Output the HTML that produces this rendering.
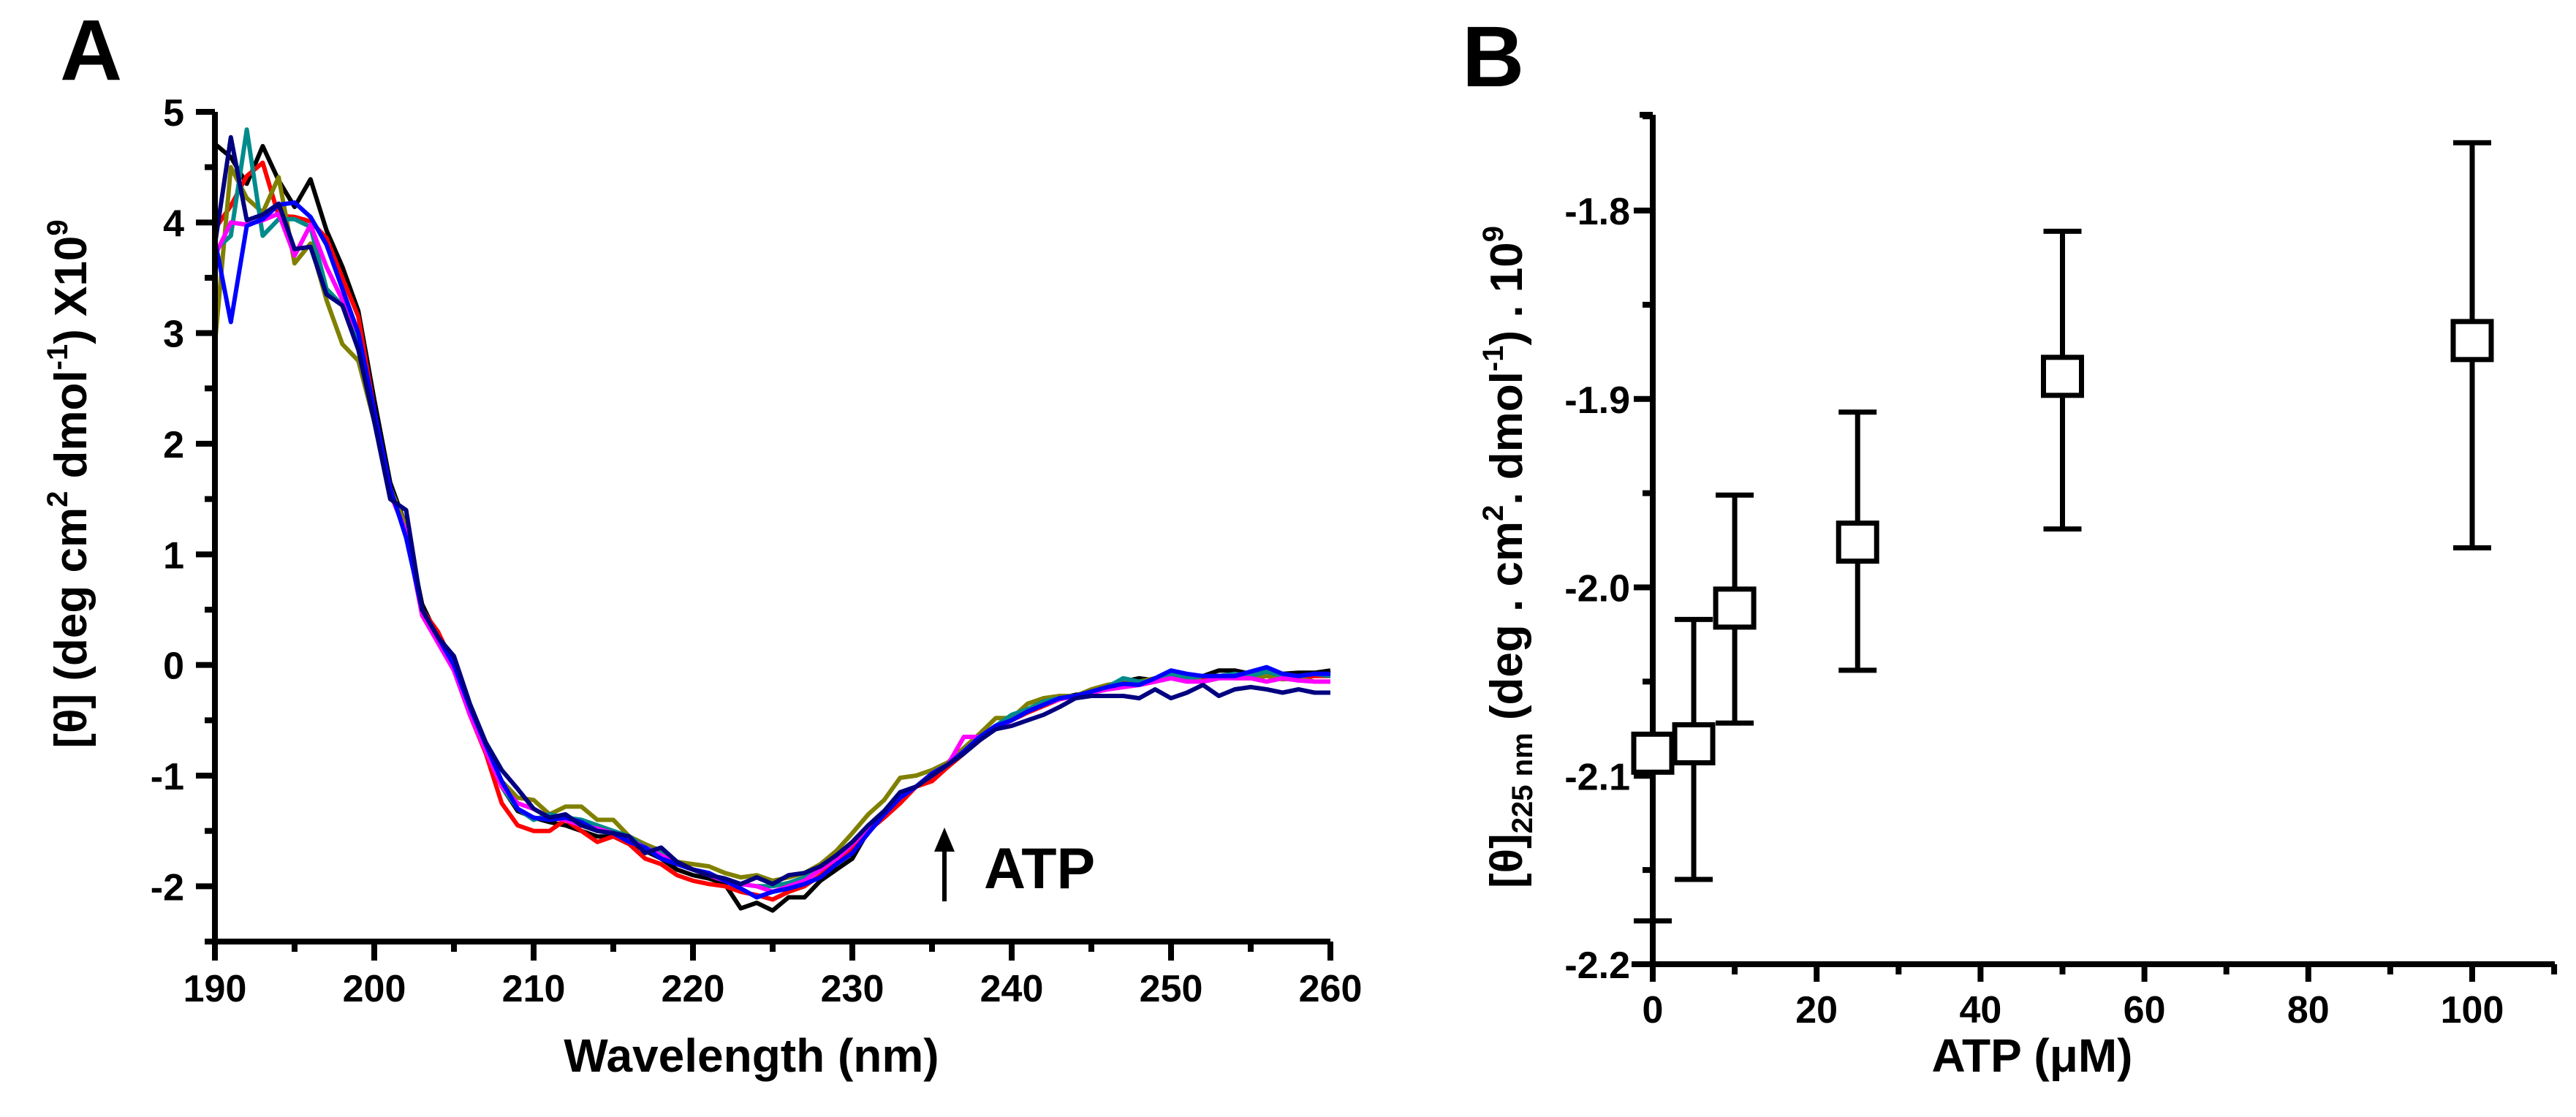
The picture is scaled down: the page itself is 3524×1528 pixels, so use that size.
<!DOCTYPE html>
<html><head><meta charset="utf-8"><style>
html,body{margin:0;padding:0;background:#fff;}
svg{display:block;font-family:"Liberation Sans",Arial,sans-serif;font-weight:bold;}
</style></head><body>
<svg id="fig" width="3524" height="1528" viewBox="0 0 3524 1528" xmlns="http://www.w3.org/2000/svg">
<rect width="3524" height="1528" fill="#fff"/>
<text x="82" y="109" font-size="118">A</text>
<text x="2000" y="118" font-size="118">B</text>
<g id="panelA"></g>
<g id="panelB"></g>
<text transform="translate(118,662) rotate(-90)" text-anchor="middle" font-size="62">[θ] (deg cm<tspan font-size="40" dy="-26">2</tspan><tspan dy="26"> dmol</tspan><tspan font-size="40" dy="-26">-1</tspan><tspan dy="26">) X10</tspan><tspan font-size="40" dy="-26">9</tspan></text>
<text x="1028" y="1466" text-anchor="middle" font-size="64">Wavelength (nm)</text>
<g>
<line x1="1292" y1="1233" x2="1292" y2="1155" stroke="#000" stroke-width="6"/>
<polygon points="1292,1132 1278,1165 1306,1165" fill="#000"/>
<text x="1346" y="1215" font-size="79">ATP</text>
</g>
<text transform="translate(2082,762) rotate(-90)" text-anchor="middle" font-size="62">[θ]<tspan font-size="40" dy="14">225 nm</tspan><tspan dy="-14"> (deg . cm</tspan><tspan font-size="40" dy="-26">2</tspan><tspan dy="26">. dmol</tspan><tspan font-size="40" dy="-26">-1</tspan><tspan dy="26">) . 10</tspan><tspan font-size="40" dy="-26">9</tspan></text>
<text x="2780" y="1466" text-anchor="middle" font-size="64">ATP (μM)</text>
</svg>
<script>
// ---- Panel A data ----
const wavelengths = [];
for (let w = 190; w <= 260; w++) wavelengths.push(w);
const aXTicks = [190,200,210,220,230,240,250,260];
const aYTicks = [5,4,3,2,1,0,-1,-2];
const seriesColors = ["#000000","#ff0000","#808000","#008b8b","#ff00ff","#0000ff","#000080"];
const seriesBlack = [4.71,4.59,4.35,4.69,4.38,4.14,4.39,3.93,3.6,3.2,
2.4,1.65,1.25,0.55,0.25,0.05,-0.38,-0.72,-1.1,-1.32,
-1.38,-1.42,-1.45,-1.5,-1.55,-1.55,-1.6,-1.68,-1.75,-1.85,
-1.9,-1.93,-1.98,-2.2,-2.15,-2.22,-2.1,-2.1,-1.95,-1.85,
-1.75,-1.5,-1.35,-1.22,-1.1,-1.0,-0.92,-0.8,-0.65,-0.55,
-0.5,-0.4,-0.35,-0.3,-0.27,-0.25,-0.2,-0.15,-0.12,-0.14,
-0.1,-0.12,-0.1,-0.05,-0.05,-0.08,-0.05,-0.08,-0.07,-0.07,
-0.05];
const seriesRed = [3.94,4.15,4.42,4.54,4.06,4.05,4.01,3.86,3.5,3.15,
2.3,1.6,1.2,0.5,0.3,0.0,-0.45,-0.8,-1.25,-1.45,
-1.5,-1.5,-1.4,-1.5,-1.6,-1.55,-1.62,-1.75,-1.8,-1.9,
-1.95,-1.98,-2.0,-2.05,-2.08,-2.12,-2.05,-2.0,-1.9,-1.78,
-1.65,-1.5,-1.38,-1.25,-1.1,-1.05,-0.92,-0.8,-0.68,-0.57,
-0.5,-0.43,-0.37,-0.31,-0.28,-0.25,-0.22,-0.2,-0.18,-0.15,
-0.1,-0.13,-0.12,-0.1,-0.12,-0.12,-0.1,-0.12,-0.12,-0.1,
-0.1];
const seriesOlive = [2.9,4.5,4.22,4.09,4.41,3.63,3.81,3.3,2.9,2.75,
2.2,1.6,1.25,0.5,0.25,-0.05,-0.45,-0.75,-1.05,-1.2,
-1.22,-1.35,-1.28,-1.28,-1.4,-1.4,-1.55,-1.62,-1.68,-1.78,
-1.8,-1.82,-1.88,-1.92,-1.9,-1.95,-1.92,-1.88,-1.8,-1.68,
-1.52,-1.35,-1.22,-1.02,-1.0,-0.95,-0.88,-0.75,-0.62,-0.48,
-0.48,-0.35,-0.3,-0.28,-0.28,-0.22,-0.18,-0.16,-0.15,-0.12,
-0.12,-0.1,-0.15,-0.12,-0.1,-0.12,-0.1,-0.13,-0.12,-0.15,
-0.15];
const seriesTeal = [3.75,3.88,4.84,3.88,4.03,4.03,3.96,3.4,3.25,2.9,
2.2,1.55,1.2,0.5,0.25,0.0,-0.4,-0.75,-1.1,-1.3,
-1.4,-1.35,-1.38,-1.4,-1.45,-1.5,-1.55,-1.65,-1.7,-1.8,
-1.85,-1.9,-1.95,-1.98,-2.0,-2.0,-1.97,-1.92,-1.85,-1.72,
-1.6,-1.45,-1.32,-1.2,-1.1,-1.0,-0.9,-0.8,-0.65,-0.55,
-0.45,-0.4,-0.33,-0.3,-0.28,-0.24,-0.2,-0.12,-0.15,-0.15,
-0.08,-0.12,-0.1,-0.1,-0.08,-0.1,-0.06,-0.1,-0.1,-0.08,
-0.1];
const seriesMagenta = [3.7,4.0,3.98,4.02,4.08,3.7,3.98,3.6,3.3,3.0,
2.3,1.55,1.2,0.45,0.2,-0.05,-0.45,-0.78,-1.1,-1.25,
-1.3,-1.38,-1.4,-1.45,-1.48,-1.52,-1.58,-1.65,-1.72,-1.8,
-1.85,-1.9,-1.95,-1.98,-2.0,-2.05,-2.0,-1.95,-1.85,-1.75,
-1.62,-1.47,-1.33,-1.2,-1.1,-1.0,-0.9,-0.65,-0.65,-0.57,
-0.5,-0.42,-0.36,-0.31,-0.28,-0.25,-0.22,-0.2,-0.18,-0.15,
-0.12,-0.15,-0.15,-0.12,-0.12,-0.12,-0.15,-0.12,-0.14,-0.15,
-0.15];
const seriesBlue = [3.84,3.1,3.97,4.03,4.16,4.18,4.05,3.8,3.4,3.0,
2.3,1.6,1.15,0.5,0.25,0.0,-0.38,-0.72,-1.05,-1.3,
-1.38,-1.4,-1.38,-1.42,-1.5,-1.52,-1.6,-1.65,-1.75,-1.8,
-1.85,-1.88,-1.95,-2.02,-2.1,-2.05,-2.02,-1.98,-1.92,-1.8,
-1.7,-1.52,-1.35,-1.2,-1.1,-0.98,-0.9,-0.78,-0.65,-0.55,
-0.5,-0.42,-0.36,-0.3,-0.28,-0.24,-0.2,-0.17,-0.18,-0.12,
-0.05,-0.08,-0.1,-0.1,-0.1,-0.06,-0.02,-0.08,-0.1,-0.08,
-0.08];
const seriesNavy = [3.8,4.77,4.02,4.07,4.17,3.76,3.78,3.35,3.25,2.85,
2.2,1.5,1.4,0.5,0.25,0.08,-0.35,-0.7,-0.95,-1.12,
-1.3,-1.38,-1.35,-1.45,-1.5,-1.52,-1.55,-1.7,-1.65,-1.78,
-1.85,-1.9,-1.93,-1.98,-1.92,-1.98,-1.9,-1.88,-1.82,-1.72,
-1.6,-1.45,-1.32,-1.15,-1.1,-1.0,-0.9,-0.8,-0.68,-0.58,
-0.55,-0.5,-0.45,-0.38,-0.3,-0.28,-0.28,-0.28,-0.3,-0.22,
-0.3,-0.25,-0.18,-0.28,-0.22,-0.2,-0.22,-0.25,-0.22,-0.25,
-0.25];
const seriesNames = ["black","red","olive","teal","magenta","blue","navy"];
const allSeries = [seriesBlack,seriesRed,seriesOlive,seriesTeal,seriesMagenta,seriesBlue,seriesNavy];

// ---- Panel B data ----
const atpConc = [0,5,10,25,50,100];
const theta225 = [-2.088,-2.083,-2.011,-1.976,-1.888,-1.869];
const errUpper = [-2.088,-2.017,-1.951,-1.907,-1.811,-1.764];
const errLower = [-2.177,-2.155,-2.072,-2.044,-1.969,-1.979];
const bXTicks = [0,20,40,60,80,100];
const bYTicks = [-1.8,-1.9,-2.0,-2.1,-2.2];

const NS = "http://www.w3.org/2000/svg";
function mk(parent, tag, attrs) {
  const e = document.createElementNS(NS, tag);
  for (const k in attrs) e.setAttribute(k, attrs[k]);
  parent.appendChild(e);
  return e;
}

// Panel A axes
const ax0 = 294, ax1 = 1820, ay0 = 1288, ayTop = 153;
const axX = w => ax0 + (w - 190) / 70 * (ax1 - ax0);
const axY = v => ay0 - (v + 2.5) / 7.5 * (ay0 - ayTop);
const gA = document.getElementById("panelA");

const seriesG = mk(gA, "g", {});


allSeries.forEach((s, i) => {
  const d = s.map((v, j) => (j ? "L" : "M") + axX(wavelengths[j]).toFixed(1) + "," + axY(v).toFixed(1)).join(" ");
  const p = mk(seriesG, "path", {d: d, fill: "none", stroke: seriesColors[i], "stroke-width": 6, "stroke-linejoin": "round"});
  
  
});

const axesA = mk(gA, "g", {stroke: "#000", "stroke-width": 8, fill: "none"});


mk(axesA, "path", {d: `M${ax0},${ayTop} V${ay0} H${ax1}`});
for (let v = 5; v >= -2.5; v -= 0.5) {
  const major = Math.abs(v - Math.round(v)) < 1e-6;
  mk(axesA, "line", {x1: ax0, x2: ax0 - (major ? 26 : 14), y1: axY(v), y2: axY(v)});
}
for (let w = 190; w <= 260; w += 5) {
  const major = w % 10 === 0;
  mk(axesA, "line", {x1: axX(w), x2: axX(w), y1: ay0, y2: ay0 + (major ? 26 : 14)});
}
aYTicks.forEach(v => {
  const t = mk(gA, "text", {x: 252, y: axY(v) + 19, "text-anchor": "end", "font-size": 52});
  t.textContent = String(v);
  
  
});
aXTicks.forEach(w => {
  const t = mk(gA, "text", {x: axX(w), y: 1370, "text-anchor": "middle", "font-size": 52});
  t.textContent = String(w);
  
  
});

// Panel B axes
const bx0 = 2261, bxEnd = 3495, by0 = 1319, byTop = 157;
const bxPerUnit = (3382 - 2261) / 100;
const bX = c => bx0 + c * bxPerUnit;
const bY = v => by0 - (v + 2.2) * 2577.5;
const gB = document.getElementById("panelB");
const axesB = mk(gB, "g", {stroke: "#000", "stroke-width": 8, fill: "none"});


mk(axesB, "line", {x1: bx0, x2: bx0, y1: byTop, y2: by0 + 24});
mk(axesB, "line", {x1: 2232, x2: bxEnd, y1: by0, y2: by0});
mk(axesB, "line", {x1: bx0 - 18, x2: bx0, y1: byTop, y2: byTop});
for (let k = 0; k <= 9; k++) {
  const v = -2.2 + k * 0.05;
  if (bY(v) < byTop) break;
  const major = k % 2 === 0;
  mk(axesB, "line", {x1: bx0, x2: bx0 - (major ? 26 : 14), y1: bY(v), y2: bY(v)});
}
for (let c = 10; c <= 110; c += 10) {
  const major = c % 20 === 0;
  mk(axesB, "line", {x1: bX(c), x2: bX(c), y1: by0, y2: by0 + (major ? 24 : 14)});
}
bYTicks.forEach(v => {
  const t = mk(gB, "text", {x: 2230, y: bY(v) + 19, "text-anchor": "end", "font-size": 52});
  t.textContent = v.toFixed(1);
  
  
});
bXTicks.forEach(c => {
  const t = mk(gB, "text", {x: bX(c), y: 1399, "text-anchor": "middle", "font-size": 52});
  t.textContent = String(c);
  
  
});

atpConc.forEach((c, i) => {
  const g = mk(gB, "g", {stroke: "#000", "stroke-width": 7, fill: "none"});
  
  
  const x = bX(c);
  mk(g, "line", {x1: x, x2: x, y1: bY(errUpper[i]), y2: bY(errLower[i])});
  if (errUpper[i] !== theta225[i]) mk(g, "line", {x1: x - 26, x2: x + 26, y1: bY(errUpper[i]), y2: bY(errUpper[i])});
  mk(g, "line", {x1: x - 26, x2: x + 26, y1: bY(errLower[i]), y2: bY(errLower[i])});
  mk(g, "rect", {x: x - 26, y: bY(theta225[i]) - 26, width: 52, height: 52, fill: "#fff"});
});
</script>
</body></html>
